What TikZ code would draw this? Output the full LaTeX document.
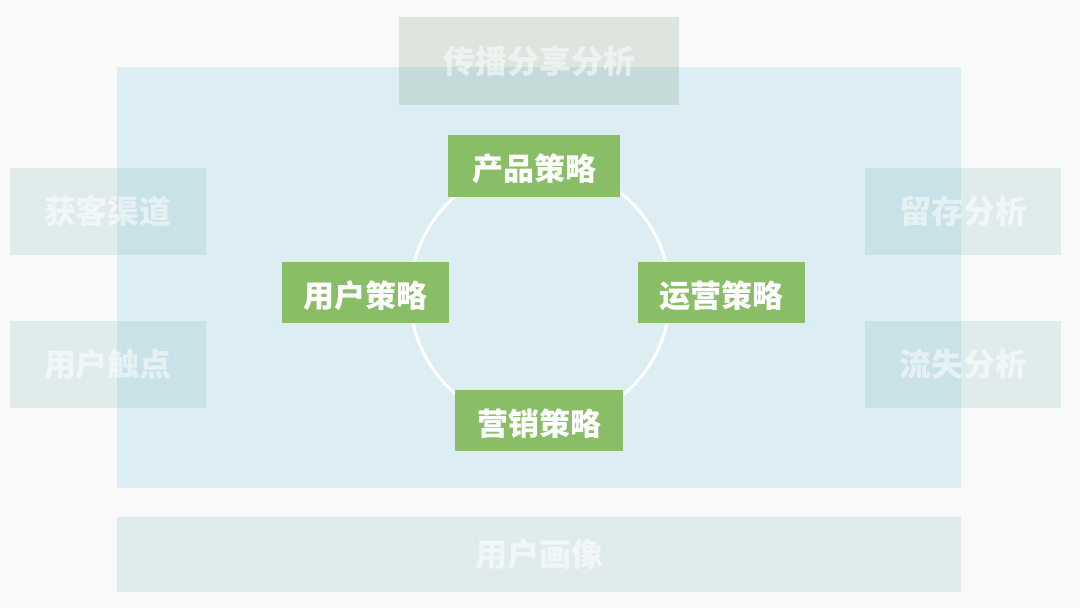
\documentclass[tikz,border=0pt]{standalone}
\usepackage{fontspec}
\setmainfont{Noto Sans CJK SC}
\definecolor{bgc}{RGB}{249,249,249}
\definecolor{bluec}{RGB}{220,237,244}
\definecolor{ghostc}{RGB}{124,184,184}
\definecolor{topc}{RGB}{109,149,114}
\definecolor{greenc}{RGB}{137,190,103}
\tikzset{
  ghost/.style={fill=ghostc, fill opacity=0.2, text opacity=0.55, text=white, inner sep=0pt,
    font=\fontsize{32}{36}\selectfont\bfseries},
  topghost/.style={ghost, fill=topc},
  strat/.style={fill=greenc, inner sep=0pt, minimum width=167pt, minimum height=61pt},
  strattext/.style={text=white, inner sep=0pt, yshift=-3pt, font=\fontsize{31}{36}\selectfont\bfseries},
}
\begin{document}
\begin{tikzpicture}[x=1pt,y=-1pt]
\useasboundingbox (0,0) rectangle (1080,608);
\fill[bgc] (0,0) rectangle (1080,608);
\fill[bluec] (117,67) rectangle (961,488);
\node[topghost, minimum width=280pt, minimum height=88pt] (share) at (539,61) {传播分享分析};
\node[ghost, minimum width=196pt, minimum height=87pt] (acq) at (108,211.5) {获客渠道};
\node[ghost, minimum width=196pt, minimum height=87pt] (touch) at (108,364.5) {用户触点};
\node[ghost, minimum width=196pt, minimum height=87pt] (ret) at (963,211.5) {留存分析};
\node[ghost, minimum width=196pt, minimum height=87pt] (churn) at (963,364.5) {流失分析};
\node[ghost, minimum width=844pt, minimum height=75pt] (persona) at (539,554.5) {用户画像};
\node[draw=white, line width=3pt, circle, minimum size=260pt, inner sep=0pt] (ring) at (540,295) {};
\node[strat, minimum width=172pt, minimum height=62pt, label={[strattext]center:产品策略}] (prod) at (534,166) {};
\node[strat, label={[strattext]center:用户策略}] (user) at (365.5,292.5) {};
\node[strat, label={[strattext]center:运营策略}] (ops) at (721.5,292.5) {};
\node[strat, minimum width=168pt, label={[strattext]center:营销策略}] (mkt) at (539,420.5) {};
\end{tikzpicture}
\end{document}
